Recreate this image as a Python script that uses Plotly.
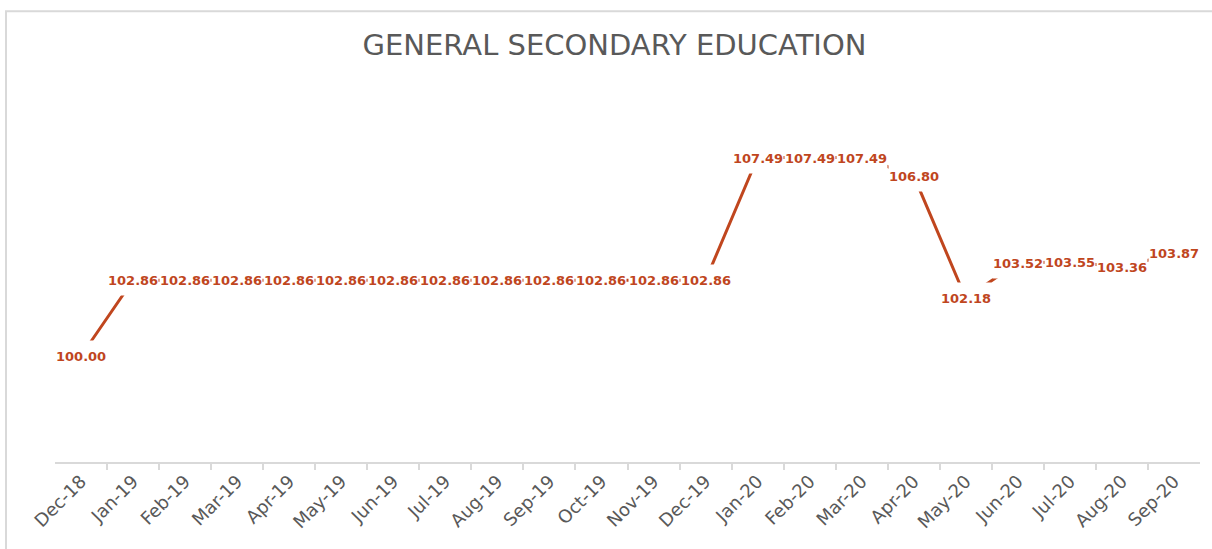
import plotly.graph_objects as go

categories = ["Dec-18", "Jan-19", "Feb-19", "Mar-19", "Apr-19", "May-19", "Jun-19",
              "Jul-19", "Aug-19", "Sep-19", "Oct-19", "Nov-19", "Dec-19", "Jan-20",
              "Feb-20", "Mar-20", "Apr-20", "May-20", "Jun-20", "Jul-20", "Aug-20", "Sep-20"]
values = [100.00, 102.86, 102.86, 102.86, 102.86, 102.86, 102.86,
          102.86, 102.86, 102.86, 102.86, 102.86, 102.86, 107.49,
          107.49, 107.49, 106.80, 102.18, 103.52, 103.55, 103.36, 103.87]
title_text = "GENERAL SECONDARY EDUCATION"

RED = "#C0461E"
GRAY = "#595959"
LIGHT = "#D9D9D9"

fig = go.Figure()
fig.add_trace(go.Scatter(x=categories, y=values, mode="lines",
                         line=dict(color=RED, width=3), hoverinfo="skip",
                         showlegend=False))

for c, v in zip(categories, values):
    fig.add_annotation(x=c, y=v, xref="x", yref="y", text=f"{v:.2f}",
                       showarrow=False, bgcolor="white", borderpad=0, height=30,
                       font=dict(family="DejaVu Sans", size=13, color=RED, weight="bold"))

# chart frame
fig.add_shape(type="rect", xref="paper", yref="paper",
              x0=-0.0428, x1=1.02, y0=-0.25, y1=1.215,
              line=dict(color=LIGHT, width=2), fillcolor="rgba(0,0,0,0)", layer="below")

fig.update_layout(
    width=1212, height=549,
    margin=dict(l=55, r=12, t=91, b=87),
    paper_bgcolor="white", plot_bgcolor="white",
    title=dict(text=title_text, x=0.507, xanchor="center", y=0.918, yanchor="middle",
               font=dict(family="DejaVu Sans", size=29, color=GRAY)),
    xaxis=dict(type="category", showline=True, linecolor=LIGHT, linewidth=1.5,
               ticks="outside", tickcolor=LIGHT, ticklen=6, tickwidth=1.5,
               tickson="boundaries", tickangle=-45, showgrid=False, zeroline=False,
               automargin=False,
               tickfont=dict(family="DejaVu Sans", size=18, color=GRAY)),
    yaxis=dict(range=[96, 110], visible=False, showgrid=False, zeroline=False,
               automargin=False),
)

fig.write_html("out.html", config={"displayModeBar": False},
               post_script="document.body.style.margin='0';document.body.style.overflow='hidden';")
